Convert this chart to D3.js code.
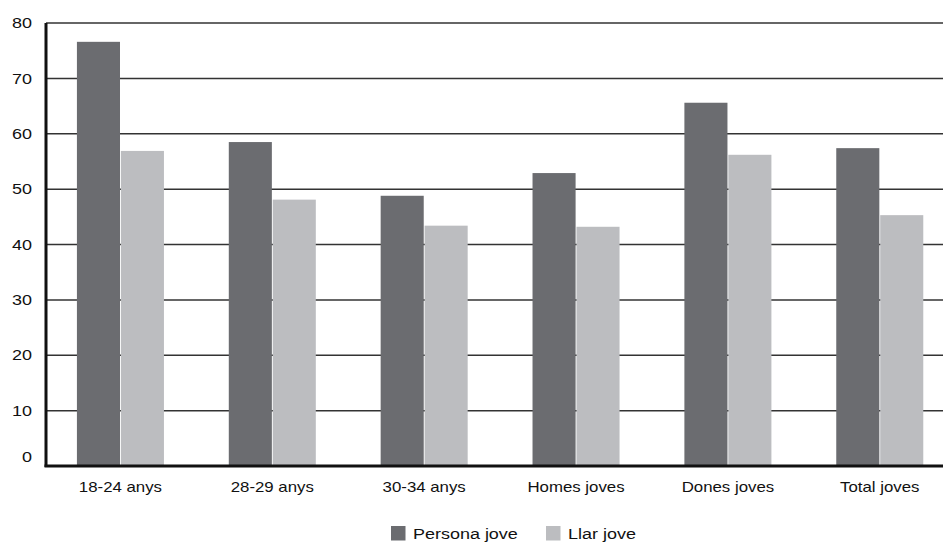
<!DOCTYPE html>
<html><head><meta charset="utf-8">
<script src="https://cdn.jsdelivr.net/npm/d3@7"></script>
<style>body{margin:0;background:#fff;}svg{display:block;font-family:"Liberation Sans",Arial,sans-serif;}</style>
</head><body>
<svg id="c" width="943" height="545"></svg>
<script>
const categories = ["18-24 anys","28-29 anys","30-34 anys","Homes joves","Dones joves","Total joves"];
const seriesNames = ["Persona jove","Llar jove"];
const personaJove = [76.6, 58.5, 48.8, 52.9, 65.6, 57.4];
const llarJove = [56.9, 48.1, 43.4, 43.2, 56.2, 45.3];
const yTicks = [0,10,20,30,40,50,60,70,80];
const colors = ["#6b6c70","#bcbdc0"];

const SX = 1.16; // horizontal text stretch seen in the reference
const svg = d3.select("#c");
const y = d3.scaleLinear().domain([0,80]).range([466,23]);
const x = d3.scaleBand().domain(categories).range([44.5,955.7]).paddingInner(0.427).paddingOuter(0.2135);
const xs = d3.scaleBand().domain(seriesNames).range([0,x.bandwidth()]).paddingInner(0.02);

// gridlines
svg.append("g").selectAll("line").data(yTicks.filter(d=>d>0)).join("line")
  .attr("x1",46).attr("x2",943).attr("y1",d=>y(d)).attr("y2",d=>y(d))
  .attr("stroke","#333").attr("stroke-width",1.5);

// bars
const series = [personaJove, llarJove];
const g = svg.append("g");
series.forEach((vals,si)=>{
  g.selectAll(null).data(vals).join("rect")
    .attr("x",(d,i)=>x(categories[i])+xs(seriesNames[si]))
    .attr("width",xs.bandwidth())
    .attr("y",d=>y(d)).attr("height",d=>y(0)-y(d))
    .attr("fill",colors[si]);
});

// y axis
const yAxis = d3.axisLeft(y).tickValues(yTicks).tickSize(0).tickPadding(14);
const ya = svg.append("g").attr("transform","translate(46,0)").call(yAxis);
ya.select(".domain").remove();
ya.selectAll("text")
  .attr("font-size",15.5).attr("fill","#111").attr("font-family","Liberation Sans, Arial, sans-serif")
  .attr("x",0)
  .attr("dy",d=>d===0?"-0.3em":"0.3em")
  .attr("transform",`translate(-14,0) scale(${SX},1)`);
svg.append("line").attr("x1",46).attr("x2",46).attr("y1",y(80)).attr("y2",y(0)+1).attr("stroke","#111").attr("stroke-width",3);

// x axis
const xAxis = d3.axisBottom(x).tickSize(0).tickPadding(16);
const xa = svg.append("g").attr("transform",`translate(0,${y(0)})`).call(xAxis);
xa.select(".domain").remove();
xa.selectAll("text").attr("font-size",14.5).attr("fill","#111").attr("font-family","Liberation Sans, Arial, sans-serif")
  .attr("transform",`scale(${SX},1)`);
svg.append("line").attr("x1",44.5).attr("x2",943).attr("y1",y(0)).attr("y2",y(0)).attr("stroke","#111").attr("stroke-width",3);

// legend
const legX = [391, 546];
const leg = svg.append("g");
seriesNames.forEach((n,i)=>{
  leg.append("rect").attr("x",legX[i]).attr("y",526).attr("width",14.5).attr("height",14.5).attr("fill",colors[i]);
  leg.append("text").attr("x",0).attr("y",539.5).attr("font-size",15.5).attr("fill","#111")
    .attr("transform",`translate(${legX[i]+22},0) scale(${SX},1)`).text(n);
});
</script>
</body></html>
